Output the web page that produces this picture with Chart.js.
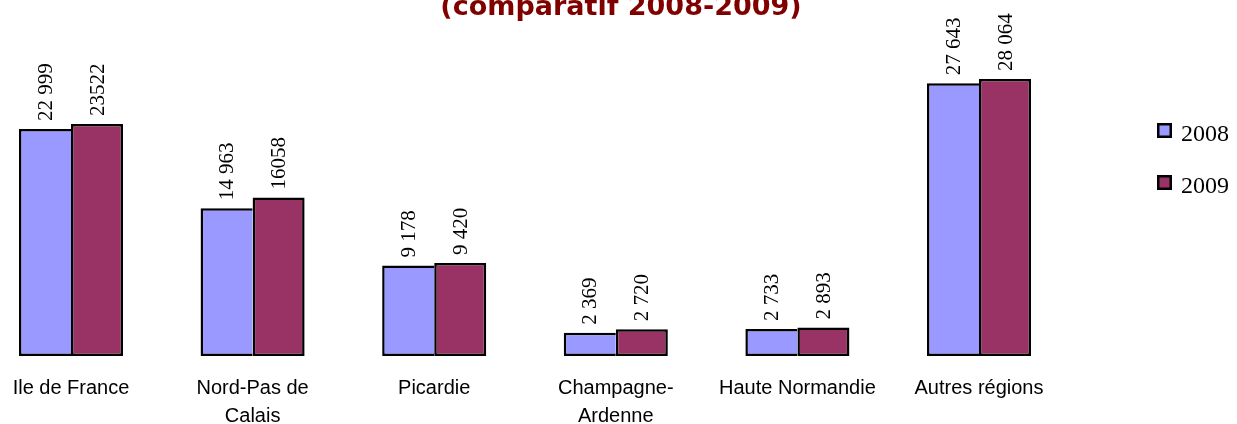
<!DOCTYPE html>
<html>
<head>
<meta charset="utf-8">
<script src="https://cdn.jsdelivr.net/npm/chart.js@4"></script>
<style>
  html, body { margin: 0; padding: 0; background: #fff; }
  #wrap { width: 1237px; height: 424px; position: relative; }
</style>
</head>
<body>
<div id="wrap"><canvas id="regionsChart"></canvas></div>
<script>
const regions = ['Ile de France', ['Nord-Pas de', 'Calais'], 'Picardie', ['Champagne-', 'Ardenne'], 'Haute Normandie', 'Autres régions'];
const values2008 = [22999, 14963, 9178, 2369, 2733, 27643];
const values2009 = [23522, 16058, 9420, 2720, 2893, 28064];
const labels2008 = ['22 999', '14 963', '9 178', '2 369', '2 733', '27 643'];
const labels2009 = ['23522', '16058', '9 420', '2 720', '2 893', '28 064'];
const seriesNames = ['2008', '2009'];
const titleText = '(comparatif 2008-2009)';

// rotated value labels above each bar
const valueLabels = {
    id: 'valueLabels',
    afterDatasetsDraw(chart) {
        const ctx = chart.ctx;
        const texts = [labels2008, labels2009];
        ctx.save();
        ctx.font = '21px "Liberation Serif", "Times New Roman", serif';
        ctx.fillStyle = '#000';
        ctx.textAlign = 'left';
        ctx.textBaseline = 'middle';
        chart.data.datasets.forEach((ds, i) => {
            chart.getDatasetMeta(i).data.forEach((bar, j) => {
                ctx.save();
                ctx.translate(bar.x, bar.y - 8);
                ctx.rotate(-Math.PI / 2);
                ctx.fillText(texts[i][j], 0, 1);
                ctx.restore();
            });
        });
        ctx.restore();
    }
};

// legend on the right + clipped title line at the top
const sideLegend = {
    id: 'sideLegend',
    afterDraw(chart) {
        const ctx = chart.ctx;
        ctx.save();
        chart.data.datasets.forEach((ds, i) => {
            const y = 123 + i * 52;
            ctx.fillStyle = '#000';
            ctx.fillRect(1157, y, 15, 15);
            ctx.fillStyle = ds.backgroundColor;
            ctx.fillRect(1159.5, y + 2.5, 10, 10);
            ctx.font = '24px "Liberation Serif", "Times New Roman", serif';
            ctx.fillStyle = '#000';
            ctx.textBaseline = 'alphabetic';
            ctx.fillText(ds.label, 1181, y + 18);
        });
        ctx.font = 'bold 27px "DejaVu Sans", Verdana, sans-serif';
        ctx.fillStyle = '#800000';
        ctx.textAlign = 'center';
        ctx.textBaseline = 'alphabetic';
        ctx.fillText(titleText, 621, 15);
        ctx.restore();
    }
};

const ctx = document.getElementById('regionsChart').getContext('2d');
new Chart(ctx, {
    type: 'bar',
    data: {
        labels: regions,
        datasets: [{
            label: seriesNames[0],
            data: values2008,
            backgroundColor: '#9999ff',
            borderColor: '#000',
            borderWidth: { left: 2.5, top: 2.5, bottom: 2.5, right: 0 },
            borderSkipped: false,
            categoryPercentage: 0.573,
            barPercentage: 1,
            clip: false
        }, {
            label: seriesNames[1],
            data: values2009,
            backgroundColor: '#993366',
            borderColor: '#000',
            borderWidth: 2.5,
            borderSkipped: false,
            categoryPercentage: 0.573,
            barPercentage: 1,
            clip: false
        }]
    },
    options: {
        responsive: true,
        maintainAspectRatio: false,
        animation: false,
        layout: {
            padding: { left: 71, right: 258, top: 60, bottom: 0 }
        },
        plugins: {
            legend: { display: false },
            tooltip: { enabled: false }
        },
        scales: {
            x: {
                offset: false,
                grid: { display: false, drawTicks: false },
                border: { display: false },
                ticks: {
                    color: '#000',
                    padding: 18,
                    maxRotation: 0,
                    autoSkip: false,
                    font: { family: '"Liberation Sans", Arial, sans-serif', size: 20, lineHeight: 1.4 }
                },
                afterFit(scale) {
                    scale.height = 68;
                    scale.paddingLeft = 0;
                    scale.paddingRight = 0;
                }
            },
            y: {
                display: false,
                min: 0,
                max: 30000
            }
        }
    },
    plugins: [valueLabels, sideLegend]
});
</script>
</body>
</html>
